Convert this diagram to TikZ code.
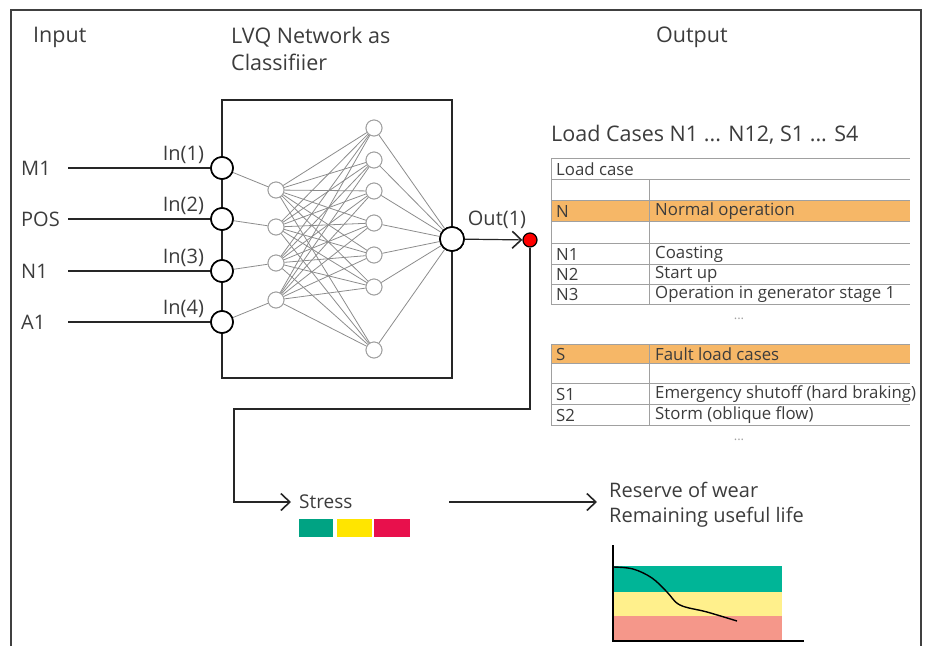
\documentclass[tikz,border=0pt]{standalone}
\usepackage{fontspec}
\setmainfont{Open Sans}
\usetikzlibrary{positioning, arrows.meta}

\definecolor{txt}{HTML}{3C3C3C}
\definecolor{rule}{HTML}{A0A0A0}
\definecolor{rowhi}{HTML}{F6B767}
\definecolor{stgreen}{HTML}{00A383}
\definecolor{styellow}{HTML}{FFE500}
\definecolor{stred}{HTML}{E8104C}
\definecolor{bdgreen}{HTML}{00B597}
\definecolor{bdyellow}{HTML}{FFF08C}
\definecolor{bdred}{HTML}{F5978A}

\tikzset{
  lbl/.style={text=txt, inner sep=0pt, font=\fontsize{20}{24}\selectfont},
  head/.style={lbl, font=\fontsize{21.5}{25}\selectfont},
  cell/.style={text=txt, inner sep=0pt, anchor=west, font=\fontsize{16.8}{20}\selectfont},
  innode/.style={circle, draw=black, fill=white, line width=1.6pt, minimum size=22pt, inner sep=0pt},
  hidnode/.style={circle, draw=rule, fill=white, line width=0.9pt, minimum size=16pt, inner sep=0pt},
  outnode/.style={circle, draw=black, fill=white, line width=1.6pt, minimum size=24pt, inner sep=0pt},
  wire/.style={line width=1.6pt, draw=black!85},
  link/.style={line width=0.8pt, draw=black!45},
  barb/.style={-{Straight Barb[length=9pt,width=17pt,line width=1.6pt]}},
}

\begin{document}
\begin{tikzpicture}[x=1pt, y=-1pt]
  \useasboundingbox (0,0) rectangle (927,646);
  % frame
  \draw[line width=1.4pt, draw=black!75] (11,646) -- (11,10) -- (921,10) -- (921,646);

  % headings
  \node[head, anchor=west] (hin) at (33,37) {Input};
  \node[head, anchor=west] (hnet) at (231,37) {LVQ Network as};
  \node[head, anchor=north west] (hnet2) at ([yshift=-7pt]hnet.south west) {Classifiier};
  \node[head, anchor=west] (hout) at (656,37) {Output};

  % network box
  \draw[wire] (222,100) rectangle (452,378);

  % layers
  \foreach \y [count=\i] in {168,219,271,322}
    \node[innode] (in\i) at (222,\y) {};
  \foreach \y [count=\i] in {190,227,263,300}
    \node[hidnode] (ha\i) at (276,\y) {};
  \foreach \y [count=\i] in {128,160,191,223,255,287,350}
    \node[hidnode] (hb\i) at (374,\y) {};
  \node[outnode] (out) at (452,239) {};

  \foreach \i in {1,...,4} {
    \draw[link] (in\i) -- (ha\i);
    \foreach \j in {1,...,7}
      \draw[link] (ha\i) -- (hb\j);
  }
  \foreach \j in {1,...,7}
    \draw[link] (hb\j) -- (out);
  % redraw nodes on top of the links
  \foreach \y in {190,227,263,300}
    \node[hidnode] at (276,\y) {};
  \foreach \y in {128,160,191,223,255,287,350}
    \node[hidnode] at (374,\y) {};

  % inputs
  \foreach \name/\i in {M1/1, POS/2, N1/3, A1/4} {
    \node[lbl, anchor=west] (src\i) at (21,0 |- in\i) {\name};
    \coordinate (start\i) at (68,0 |- in\i);
    \draw[wire] (start\i) -- (in\i);
    \node[lbl, anchor=south east] at ([xshift=-6pt,yshift=4pt]in\i.west) {In(\i)};
  }
  % redraw circles over the wires
  \foreach \y in {168,219,271,322}
    \node[innode] at (222,\y) {};
  \node[outnode] at (452,239) {};

  % output
  \node[circle, draw=black, fill=red, line width=1.2pt, minimum size=14pt, inner sep=0pt] (dot) at (530,240) {};
  \node[lbl, anchor=south] at (497,229) {Out(1)};
  \draw[line width=1.2pt, draw=black!85, barb] (out) -- (dot);

  % load case table
  \node[head, anchor=west] (ttl) at (551,135) {Load Cases N1 ... N12, S1 ... S4};
  \fill[rowhi] (551,200.5) rectangle (910,221);
  \fill[rowhi] (551,344.5) rectangle (910,363);
  \foreach \y in {158,179,200,221.5,243,264,284,304}
    \draw[rule, line width=0.8pt] (551,\y) -- (910,\y);
  \foreach \y in {344,363.5,383.5,404,425}
    \draw[rule, line width=0.8pt] (551,\y) -- (910,\y);
  \draw[rule, line width=0.8pt] (551,158) -- (551,304);
  \draw[rule, line width=0.8pt] (649,179) -- (649,304);
  \draw[rule, line width=0.8pt] (551,344) -- (551,425);
  \draw[rule, line width=0.8pt] (649,344) -- (649,425);

  \node[cell] at (556,169) {Load case};
  \foreach \y/\a/\b in {211/N/Normal operation, 254/N1/Coasting, 274/N2/Start up,
      294/N3/Operation in generator stage 1, 354/S/Fault load cases,
      394/S1/Emergency shutoff (hard braking), 415/S2/Storm (oblique flow)} {
    \node[cell] at (556,\y) {\a};
    \node[cell] at (655,\y) {\b};
  }
  \node[text=rule, font=\fontsize{13}{15}\selectfont] (dots1) at (739,319) {...};
  \node[text=rule, font=\fontsize{13}{15}\selectfont] (dots2) at (739,440) {...};

  % stress path
  \coordinate (c1) at (530,409);
  \coordinate (c2) at (234,409);
  \coordinate (c3) at (234,502);
  \node[lbl, anchor=west, font=\fontsize{19}{22}\selectfont] (stress) at (299,502) {Stress};
  \draw[line width=1.4pt, draw=black!85, barb] (dot) -- (c1) -- (c2) -- (c3) -- ([xshift=-8pt]stress.west);
  \fill[stgreen]  (299,519) rectangle (333,537);
  \fill[styellow] (337,519) rectangle (372,537);
  \fill[stred]    (374,519) rectangle (410,537);

  % remaining life
  \coordinate (a1) at (449,502);
  \node[lbl, anchor=west] (rw) at (609,490) {Reserve of wear};
  \node[lbl, anchor=west] (rl) at (609,517) {Remaining useful life};
  \draw[line width=1.4pt, draw=black!85, barb] (a1) -- ([xshift=-12pt]rw.west |- a1);

  \fill[bdgreen]  (613,566) rectangle (782,592);
  \fill[bdyellow] (613,592) rectangle (782,616);
  \fill[bdred]    (613,616) rectangle (782,641);
  \draw[line width=1.6pt] (613,545) -- (613,641) -- (804,641);
  \draw[line width=1.4pt] plot[smooth, tension=0.6] coordinates {(613,567) (633,569) (652,578) (667,592) (680,605) (707,612) (737,621)};
\end{tikzpicture}
\end{document}
